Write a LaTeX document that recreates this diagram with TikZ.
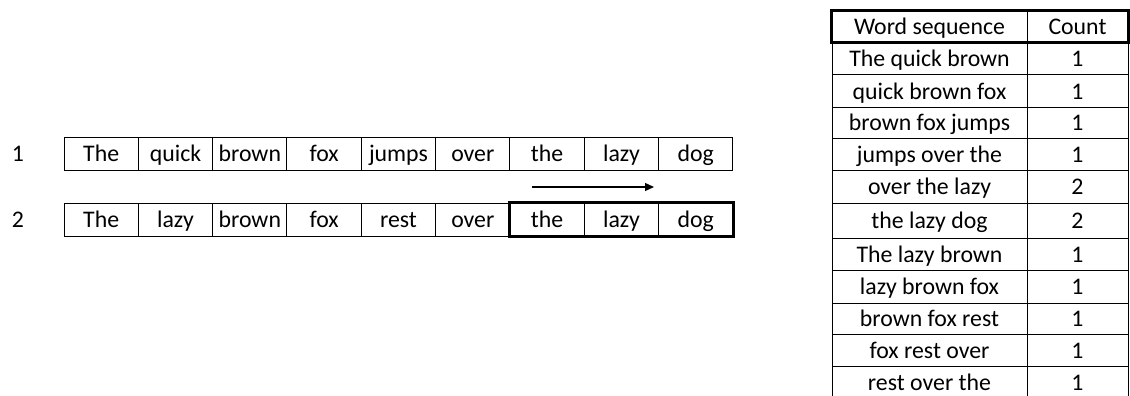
\documentclass[tikz,border=0pt]{standalone}
\usepackage{fontspec}
\setmainfont{Carlito}
\usetikzlibrary{arrows.meta}
\begin{document}
\begin{tikzpicture}[x=1pt,y=-1pt,
  every node/.style={font=\fontsize{23.8}{26}\selectfont},
  wcell/.style={draw,line width=1pt,minimum width=74.33pt,minimum height=33pt,inner sep=0pt,text height=16.5pt,text depth=0pt},
  tcell/.style={draw,line width=1pt,inner sep=0pt,text height=16.5pt,text depth=0pt},
  lbl/.style={inner sep=0pt,text height=16.5pt,text depth=0pt},
  thick box/.style={draw,line width=3pt}]
\useasboundingbox (0,0) rectangle (1130,396);
\clip (0,0) rectangle (1130,396);
% row labels
\node[lbl] (l1) at (18,153.5) {1};
\node[lbl] (l2) at (18,219.5) {2};
% row 1
\foreach \w [count=\i] in {The,quick,brown,fox,jumps,over,the,lazy,dog}
  \node[wcell] (a\i) at ({64+74.33*(\i-0.5)},153.5) {\w};
% row 2
\foreach \w [count=\i] in {The,lazy,brown,fox,rest,over,the,lazy,dog}
  \node[wcell] (b\i) at ({64+74.33*(\i-0.5)},219.5) {\w};
\draw[thick box] (b7.north west) rectangle (b9.south east);
% arrow
\coordinate (s) at (532,187);
\coordinate (e) at (654,187);
\draw[line width=1.2pt,-{Triangle[length=9pt,width=8pt]}] (s) -- (e);
% table
\def\rows{{11,42,75,107,138,170,203,238,270,303,334,366,398}}
\foreach \t/\c [count=\i] in {Word sequence/Count,The quick brown/1,quick brown fox/1,brown fox jumps/1,jumps over the/1,over the lazy/2,the lazy dog/2,The lazy brown/1,lazy brown fox/1,brown fox rest/1,fox rest over/1,rest over the/1}{
  \pgfmathsetmacro{\ya}{\rows[\i-1]}
  \pgfmathsetmacro{\yb}{\rows[\i]}
  \node[tcell,minimum width=195pt,minimum height={\yb-\ya}] (w\i) at (929.5,{(\ya+\yb)/2}) {\t};
  \node[tcell,minimum width=101pt,minimum height={\yb-\ya}] (c\i) at (1077.5,{(\ya+\yb)/2}) {\c};
}
\draw[thick box] (w1.north west) rectangle (c1.south east);
\end{tikzpicture}
\end{document}
